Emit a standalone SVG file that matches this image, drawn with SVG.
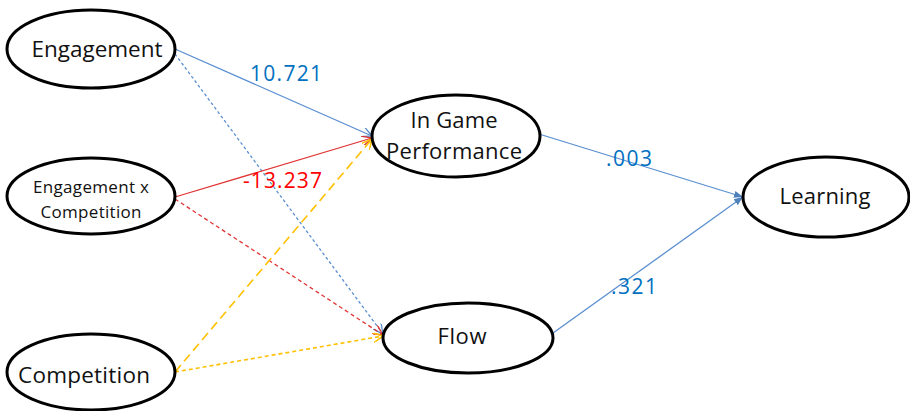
<svg xmlns="http://www.w3.org/2000/svg" width="910" height="411" viewBox="0 0 910 411">
<style>
.node ellipse{fill:#fff;stroke:#000;stroke-width:3}
.node text{font-family:"Open Sans","Liberation Sans",sans-serif;fill:#111;text-anchor:middle}
.lbl{font-family:"Open Sans","Liberation Sans",sans-serif;font-size:21px}
.b{stroke:#5B8FD0;fill:none;stroke-width:1.3}
.r{stroke:#E03434;fill:none;stroke-width:1.3}
.y{stroke:#FFC000;fill:none;stroke-width:1.6}
</style>
<defs>
<marker id="ab" viewBox="0 0 10 10" refX="10" refY="5" markerWidth="10" markerHeight="10" markerUnits="userSpaceOnUse" orient="auto"><path d="M0,0 L10,5 L0,10" fill="none" stroke="#5B8FD0" stroke-width="1.3"/></marker>
<marker id="ar" viewBox="0 0 10 10" refX="10" refY="5" markerWidth="10" markerHeight="10" markerUnits="userSpaceOnUse" orient="auto"><path d="M0,0 L10,5 L0,10" fill="none" stroke="#E03434" stroke-width="1.3"/></marker>
<marker id="ay" viewBox="0 0 10 10" refX="10" refY="5" markerWidth="10" markerHeight="10" markerUnits="userSpaceOnUse" orient="auto"><path d="M0,0 L10,5 L0,10" fill="none" stroke="#FFC000" stroke-width="1.5"/></marker>
<marker id="af" viewBox="0 0 10 10" refX="10" refY="5" markerWidth="9" markerHeight="9" markerUnits="userSpaceOnUse" orient="auto"><path d="M0,1 L10,5 L0,9 Z" fill="#4F81BD"/></marker>
</defs>
<g id="connectors">
<line class="b" x1="175" y1="49" x2="372" y2="136" marker-end="url(#ab)"/>
<line class="b" x1="175" y1="54" x2="383" y2="334" stroke-dasharray="3,2.5" marker-end="url(#ab)"/>
<line class="r" x1="175" y1="197" x2="372" y2="138" marker-end="url(#ar)"/>
<line class="r" x1="175" y1="199" x2="383" y2="335" stroke-dasharray="4,3" marker-end="url(#ar)"/>
<line class="y" x1="175" y1="372" x2="372" y2="139" stroke-dasharray="9,5" marker-end="url(#ay)"/>
<line class="y" x1="175" y1="372" x2="383" y2="336" stroke-dasharray="4,3" marker-end="url(#ay)"/>
<line class="b" x1="539" y1="134" x2="743" y2="197" marker-end="url(#af)"/>
<line class="b" x1="553" y1="333" x2="743" y2="197" marker-end="url(#af)"/>
<text class="lbl" x="250" y="81" fill="#0070C0" textLength="72">10.721</text>
<text class="lbl" x="243" y="188" fill="#FF0000" textLength="79">-13.237</text>
<text class="lbl" x="606" y="166" fill="#0070C0" textLength="46">.003</text>
<text class="lbl" x="611" y="294" fill="#0070C0" textLength="46">.321</text>
</g>
<g id="engagement" class="node"><ellipse cx="91" cy="49" rx="84" ry="39"/><text x="97" y="57" font-size="22.5" textLength="131">Engagement</text></g>
<g id="engagement-x-competition" class="node"><ellipse cx="91" cy="196" rx="84" ry="38"/><text x="91" y="193" font-size="17" textLength="116">Engagement x</text><text x="91" y="218" font-size="17" textLength="101">Competition</text></g>
<g id="competition" class="node"><ellipse cx="91" cy="372" rx="84" ry="38"/><text x="84" y="383" font-size="22.5" textLength="132">Competition</text></g>
<g id="in-game-performance" class="node"><ellipse cx="456" cy="136" rx="84" ry="41"/><text x="454" y="128" font-size="22" textLength="87">In Game</text><text x="454" y="159" font-size="22" textLength="136">Performance</text></g>
<g id="flow" class="node"><ellipse cx="468" cy="338" rx="85" ry="35"/><text x="462" y="344" font-size="22" textLength="49">Flow</text></g>
<g id="learning" class="node"><ellipse cx="826" cy="197" rx="83" ry="40"/><text x="825" y="204" font-size="22" textLength="91">Learning</text></g>
</svg>
